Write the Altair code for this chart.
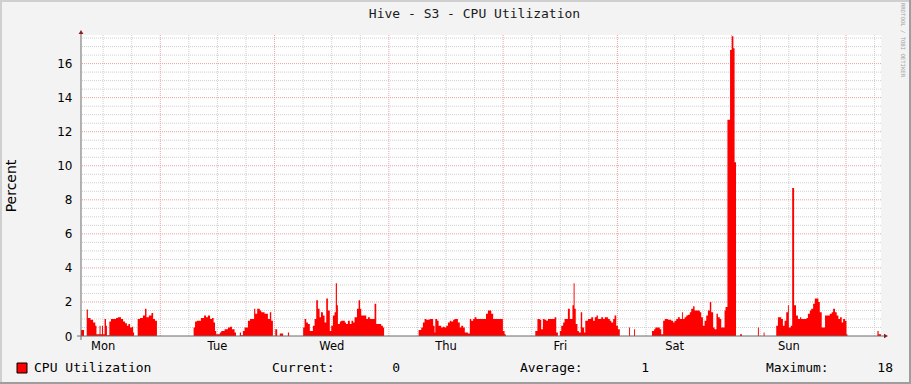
import altair as alt
import pandas as pd
import numpy as np

# ---------------- texts ----------------
TITLE = "Hive - S3 - CPU Utilization"
Y_TITLE = "Percent"
WATERMARK = "RRDTOOL / TOBI OETIKER"
SERIES_NAME = "CPU Utilization"
DAYS = ["Mon", "Tue", "Wed", "Thu", "Fri", "Sat", "Sun"]
DAY_CENTERS = [12, 36, 60, 84, 108, 132, 156]          # hours since Monday 00:00
LEGEND_LABELS = ["Current:", "Average:", "Maximum:"]
LEGEND_VALUES = ["0", "1", "18"]

# ---------------- axes ----------------
X_START, X_END = 7.35, 175.35                          # hours since Monday 00:00
Y_MAX = 17.68
Y_LABELS = [0, 2, 4, 6, 8, 10, 12, 14, 16]
MAJOR_X = [24, 48, 72, 96, 120, 144, 168]
MINOR_X = [h for h in range(12, 175, 6) if h % 24 != 0]
MAJOR_Y = [2, 4, 6, 8, 10, 12, 14, 16]
MINOR_Y = [v / 2 for v in range(1, 36) if v % 4 != 0]

# ---------------- data: (hour since Monday 00:00, CPU %) ----------------
mon = [(7.35, 0.35), (7.98, 0), (8.55, 1.55), (8.8, 1.05), (9.35, 0.95), (9.9, 0.8), (10.35, 0.6),
       (10.6, 0.1), (11.25, 0.6), (11.45, 0.1), (11.75, 0.6), (11.97, 0.1), (12.3, 1.0), (12.6, 0.6),
       (12.8, 0.05), (13.3, 0.85), (13.65, 1.0), (14.7, 1.05), (15.1, 1.1), (15.75, 1.0), (16.2, 0.85),
       (16.6, 0.75), (17.0, 0.6), (17.3, 0.7), (17.65, 0.5), (18.05, 0.55), (18.3, 0.2), (18.5, 0),
       (19.25, 1.0), (19.75, 1.05), (20.35, 1.2), (20.8, 1.6), (21.1, 1.1), (21.6, 1.2), (22.15, 1.35),
       (22.5, 1.0), (22.9, 0.9), (23.3, 0)]
tue = [(31.0, 0.5), (31.3, 0.85), (31.7, 0.9), (32.55, 1.05), (33.2, 1.2), (33.6, 1.1), (34.0, 1.2),
       (34.45, 1.0), (34.85, 1.05), (35.2, 0.8), (35.5, 0.3), (35.75, 0.1), (36.5, 0.2), (36.8, 0.3),
       (37.5, 0.4), (38.2, 0.5), (38.65, 0.55), (39.05, 0.4), (39.6, 0.2), (39.9, 0), (40.7, 0.2),
       (40.95, 0.05), (41.35, 0.3), (41.7, 0.5), (42.4, 0.9), (42.85, 1.0), (43.7, 1.6), (43.95, 1.3),
       (44.35, 1.6), (44.9, 1.5), (45.2, 1.4), (45.9, 1.3), (46.6, 1.0), (47.0, 1.4), (47.3, 0.9),
       (47.65, 0)]
wed = [(48.15, 0.4), (48.55, 0), (49.1, 0.15), (49.8, 0), (50.8, 0.2), (51.05, 0), (54.0, 0.5),
       (54.3, 1.0), (54.65, 0.8), (55.0, 0.7), (55.4, 0.3), (56.05, 0.6), (56.4, 1.0), (56.75, 2.1),
       (57.1, 1.6), (57.45, 1.1), (57.75, 1.4), (58.15, 1.2), (58.5, 0.8), (58.85, 2.2), (59.2, 1.5),
       (59.6, 0.3), (59.9, 0.6), (60.25, 1.2), (60.6, 1.4), (60.85, 3.1), (61.1, 1.8), (61.3, 0.7),
       (61.7, 0.85), (62.0, 0.9), (62.75, 0.8), (63.0, 0.7), (63.4, 0.9), (63.8, 0.7), (64.15, 0.9),
       (64.5, 0.8), (64.8, 1.1), (65.3, 1.6), (65.65, 2.1), (65.95, 1.6), (66.2, 1.2), (67.25, 1.0),
       (67.6, 1.1), (68.0, 1.0), (69.0, 1.9), (69.35, 0.7), (70.4, 0.6), (70.75, 0.5), (71.0, 0)]
thu = [(78.25, 0.35), (78.8, 0.5), (79.15, 0.8), (79.5, 1.0), (79.85, 0.95), (80.55, 1.0), (81.3, 0.6),
       (81.6, 0.2), (81.75, 1.0), (82.15, 0.9), (82.45, 0.6), (83.0, 0.5), (83.35, 0.55), (83.7, 0.5),
       (84.05, 0.6), (84.4, 0.8), (84.8, 0.9), (85.1, 0.85), (85.5, 0.95), (85.8, 1.0), (86.5, 0.8),
       (86.9, 0.5), (87.2, 0.6), (87.6, 0.5), (87.95, 0.2), (88.6, 0.15), (89.0, 1.0), (89.3, 0.9),
       (89.7, 1.0), (90.0, 1.1), (90.4, 1.0), (92.4, 1.3), (92.8, 1.5), (93.5, 1.3), (93.9, 1.0),
       (95.95, 0.3), (96.3, 0.1), (96.55, 0)]
fri = [(102.75, 0.3), (103.2, 1.0), (103.7, 0.95), (104.0, 0.4), (104.35, 1.0), (104.7, 0.95),
       (105.05, 0.9), (105.4, 1.0), (106.8, 1.1), (107.15, 0.2), (107.5, 0), (107.9, 0.3), (108.2, 0.6),
       (108.6, 0.8), (108.9, 1.0), (109.6, 1.6), (110.0, 1.0), (110.55, 1.8), (110.8, 3.1), (111.0, 1.6),
       (111.25, 0.7), (111.6, 0.3), (111.9, 0.2), (112.3, 1.4), (112.6, 0.5), (113.0, 0.2), (113.25, 0.9),
       (113.8, 1.0), (114.5, 1.1), (114.9, 0.9), (115.25, 1.1), (115.6, 1.2), (115.9, 1.0), (116.6, 1.1),
       (117.0, 1.0), (117.35, 1.1), (118.0, 1.0), (118.4, 0.9), (118.7, 0.8), (119.1, 1.0), (119.4, 1.2),
       (119.75, 0.6), (120.1, 0.4), (120.5, 0)]
sat = [(122.45, 0.5), (122.65, 0), (123.5, 0.4), (123.7, 0), (127.25, 0.3), (127.7, 0.4), (127.95, 0.5),
       (128.5, 0.5), (128.9, 0.4), (129.2, 0.1), (129.6, 0.9), (129.95, 1.0), (130.6, 0.95), (131.3, 0.9),
       (131.7, 0.8), (132.0, 0.9), (132.35, 1.0), (132.7, 1.1), (133.1, 1.0), (133.55, 1.4), (133.75, 1.0),
       (134.1, 1.1), (134.45, 1.2), (134.8, 1.25), (135.2, 1.4), (135.5, 1.6), (135.9, 1.75), (136.2, 1.5),
       (136.9, 1.5), (137.3, 1.4), (137.6, 1.1), (137.95, 0.6), (138.3, 0.9), (138.65, 1.2), (139.0, 1.5),
       (139.4, 2.0), (139.7, 1.4), (140.1, 0.5), (140.4, 0.4), (140.8, 1.3), (141.1, 1.1), (141.5, 1.0),
       (141.8, 0.5), (142.2, 0.5), (142.5, 1.5), (142.7, 1.7), (143.1, 12.7), (143.65, 16.8)]
sun = [(144.0, 17.6), (144.35, 16.9), (144.6, 10.2), (144.9, 0), (145.75, 0.1), (146.15, 0), (149.5, 0.5),
       (149.7, 0), (150.7, 0.2), (150.9, 0), (153.35, 0.6), (153.7, 1.1), (154.15, 1.1), (154.4, 1.0),
       (154.75, 0.6), (155.1, 0.9), (155.45, 1.4), (155.8, 1.8), (156.0, 0.5), (156.4, 0.6), (156.7, 8.7),
       (157.1, 1.8), (157.5, 1.2), (157.9, 1.0), (158.35, 1.1), (158.6, 1.0), (159.7, 1.05), (160.0, 1.3),
       (160.4, 1.5), (160.7, 1.6), (161.1, 1.9), (161.45, 2.2), (162.2, 2.0), (162.5, 1.4), (162.9, 0.5),
       (163.6, 1.2), (164.6, 1.3), (165.0, 1.4), (165.3, 1.6), (165.7, 1.4), (166.05, 1.2), (166.4, 1.0),
       (166.75, 1.1), (167.1, 0.8), (167.4, 1.0), (167.8, 0.9)]
mon2 = [(168.1, 0.1), (168.3, 0), (174.6, 0.3), (174.85, 0.1), (175.35, 0)]

# ---------------- build ----------------
W, H = 800, 301
df = pd.DataFrame(mon + tue + wed + thu + fri + sat + sun + mon2, columns=["hour", "cpu"])

xs = alt.Scale(domain=[X_START, X_END], nice=False, zero=False)
ys = alt.Scale(domain=[0, Y_MAX], nice=False, zero=True)

MONO = "DejaVu Sans Mono"
SANS = "DejaVu Sans"
MINOR_C = "#CFCFCF"
MAJOR_C = "#E9A3A3"

Y_AXIS = alt.Axis(
    values=Y_LABELS, title=None, grid=False, ticks=False, domain=False,
    labelFont=SANS, labelFontSize=12, labelColor="#000000", labelPadding=9,
)


def vrules(vals, color):
    return alt.Chart(pd.DataFrame({"v": vals})).mark_rule(
        color=color, strokeDash=[1, 1], strokeWidth=1
    ).encode(x=alt.X("v:Q", scale=xs, axis=None))


def hrules(vals, color):
    return alt.Chart(pd.DataFrame({"v": vals})).mark_rule(
        color=color, strokeDash=[1, 1], strokeWidth=1
    ).encode(y=alt.Y("v:Q", scale=ys, axis=Y_AXIS))


grid = vrules(MINOR_X, MINOR_C) + hrules(MINOR_Y, MINOR_C) + vrules(MAJOR_X, MAJOR_C) + hrules(MAJOR_Y, MAJOR_C)

area = alt.Chart(df).mark_area(color="#FF0000", interpolate="step-after", opacity=1).encode(
    x=alt.X("hour:Q", scale=xs, axis=None),
    y=alt.Y("cpu:Q", scale=ys, axis=Y_AXIS),
)

one = pd.DataFrame({"k": [0]})
AX = "#6A6A6A"
axis_y = alt.Chart(one).mark_rule(color=AX, strokeWidth=1).encode(
    x=alt.value(0), y=alt.value(-3), y2=alt.value(H + 4))
axis_x = alt.Chart(one).mark_rule(color=AX, strokeWidth=1).encode(
    x=alt.value(-4), x2=alt.value(W + 4), y=alt.value(H), )
arrow_up = alt.Chart(one).mark_point(shape="triangle-up", filled=True, color="#8E1B1B", size=22, opacity=1).encode(
    x=alt.value(0), y=alt.value(-3))
arrow_right = alt.Chart(one).mark_point(shape="triangle-right", filled=True, color="#8E1B1B", size=22, opacity=1).encode(
    x=alt.value(W + 5), y=alt.value(H))

day_df = pd.DataFrame({"day": DAYS, "hour": DAY_CENTERS})
day_labels = alt.Chart(day_df).mark_text(font=SANS, fontSize=11.5, color="#000000", baseline="middle").encode(
    x=alt.X("hour:Q", scale=xs, axis=None), y=alt.value(H + 11), text="day:N")


def txt(s, x, y, font=MONO, size=13, align="left", angle=0, color="#000000"):
    return alt.Chart(pd.DataFrame({"t": [s]})).mark_text(
        font=font, fontSize=size, align=align, baseline="middle", angle=angle, color=color
    ).encode(x=alt.value(x), y=alt.value(y), text="t:N")


title = txt(TITLE, W / 2 - 6.5, -21, align="center", color="#1A1A1A")
ytitle = txt(Y_TITLE, -69, 151, font=SANS, size=14, align="center", angle=270)
water = txt(WATERMARK, 822, 5, size=5.6, align="center", angle=90, color="#A0A0A0")

LY = 333
swatch = alt.Chart(one).mark_rect(color="#FF0000", stroke="#000000", strokeWidth=1).encode(
    x=alt.value(-64), x2=alt.value(-54), y=alt.value(LY - 5), y2=alt.value(LY + 5))
leg = (txt(SERIES_NAME, -47, LY)
       + txt(LEGEND_LABELS[0], 191, LY) + txt(LEGEND_VALUES[0], 319, LY, align="right")
       + txt(LEGEND_LABELS[1], 439, LY) + txt(LEGEND_VALUES[1], 568, LY, align="right")
       + txt(LEGEND_LABELS[2], 685, LY) + txt(LEGEND_VALUES[2], 812, LY, align="right"))

# frame shading around the whole canvas
frame = (
    alt.Chart(one).mark_rect(color="#CFCFCF").encode(x=alt.value(-81), x2=alt.value(W + 30), y=alt.value(-35), y2=alt.value(-33))
    + alt.Chart(one).mark_rect(color="#CFCFCF").encode(x=alt.value(-81), x2=alt.value(-79), y=alt.value(-35), y2=alt.value(H + 48))
    + alt.Chart(one).mark_rect(color="#9E9E9E").encode(x=alt.value(-81), x2=alt.value(W + 30), y=alt.value(H + 46), y2=alt.value(H + 48))
    + alt.Chart(one).mark_rect(color="#9E9E9E").encode(x=alt.value(W + 28), x2=alt.value(W + 30), y=alt.value(-35), y2=alt.value(H + 48))
)

chart = alt.layer(
    grid, area, axis_y, axis_x, arrow_up, arrow_right, day_labels,
    title, ytitle, water, swatch, leg, frame
).properties(
    width=W, height=H,
    autosize=alt.AutoSizeParams(type="none"),
    padding={"left": 81, "top": 35, "right": 30, "bottom": 48},
    background="#F3F3F3",
).configure_view(fill="#FFFFFF", stroke=None)

chart.save("out.html", embed_options={"renderer": "svg", "actions": False})
